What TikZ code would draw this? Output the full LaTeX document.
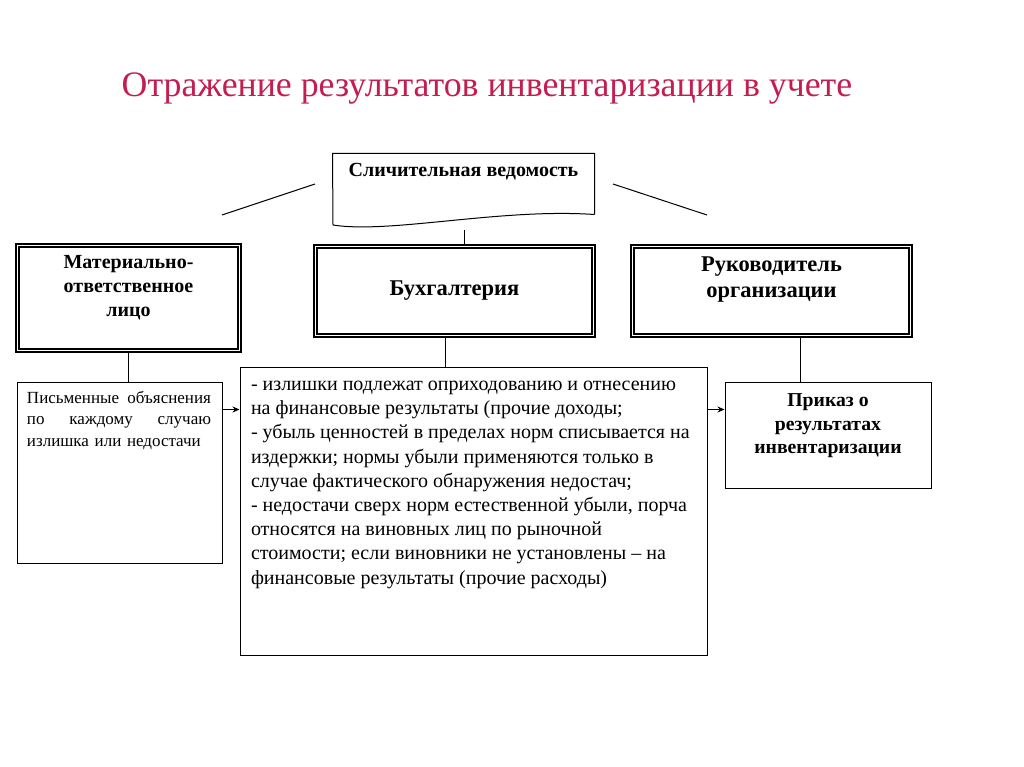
\documentclass[tikz,border=0pt]{standalone}
\usepackage{fontspec}
\setmainfont{Liberation Serif}
\usetikzlibrary{arrows.meta,calc}
\definecolor{titlered}{RGB}{196,30,80}

\tikzset{
  dblbox/.style={draw, double, double distance=1.8pt, line width=1.4pt, inner sep=0pt},
  plainbox/.style={draw, line width=1pt, inner sep=0pt},
  boldtext/.style={font=\bfseries\fontsize{20}{24}\selectfont, align=center},
  bodytext/.style={font=\fontsize{20}{24.2}\selectfont, align=left, inner sep=0pt},
  >={Stealth[length=7pt,width=6pt]}
}

\begin{document}
\begin{tikzpicture}[x=1pt,y=-1pt,line width=1pt]
  \useasboundingbox[fill=white] (0,0) rectangle (1024,767);
  \node[font=\fontsize{35.8}{40}\selectfont, text=titlered] (title) at (487,89) {Отражение результатов инвентаризации в учете};

  % document shape
  \node[minimum width=261, minimum height=60, inner sep=0pt] (doc) at (463.5,184) {};
  \draw (doc.south east) -- (doc.north east) -- (doc.north west) -- (333,225)
    .. controls (390,234) and (500,208) .. (doc.south east);
  \node[boldtext] (docname) at (463.5,172) {Сличительная ведомость};
  \coordinate (docfoot) at (464,230);
  \draw (222,215) -- (315,184);
  \draw (613,184) -- (707,215);

  % double boxes
  \node[dblbox, minimum width=222, minimum height=105] (mol) at (128.5,298) {};
  \node[boldtext] (moltext) at ($(mol)+(0,-10)$) {Материально-\\ответственное\\лицо};
  \node[dblbox, minimum width=278, minimum height=89] (buh) at (454.5,291) {};
  \node[boldtext, font=\bfseries\fontsize{22.5}{26}\selectfont] (buhtext) at (buh) {Бухгалтерия};
  \node[dblbox, minimum width=278, minimum height=89] (boss) at (771.5,291) {};
  \node[boldtext, font=\bfseries\fontsize{22.5}{26}\selectfont] (bosstext) at ($(boss)+(0,-11)$) {Руководитель\\организации};
  \draw (docfoot) -- (docfoot |- buh.north);

  % lower boxes
  \node[plainbox, minimum width=205, minimum height=181] (expl) at (119.5,472.5) {};
  \node[bodytext, font=\fontsize{17}{21.5}\selectfont, text width=186, anchor=north west] (expltext)
    at ($(expl.north west)+(10,9)$) {\makebox[184pt][l]{Письменные\hfill объяснения}\\\makebox[184pt][l]{по\hfill каждому\hfill случаю}\\излишка или недостачи};
  \node[plainbox, minimum width=467, minimum height=288] (res) at (473.5,511) {};
  \node[bodytext, anchor=north west] (restext) at ($(res.north west)+(11,14)$) {%
    - излишки подлежат оприходованию и отнесению\\
    на финансовые результаты (прочие доходы;\\
    - убыль ценностей в пределах норм списывается на\\
    издержки; нормы убыли применяются только в\\
    случае фактического обнаружения недостач;\\
    - недостачи сверх норм естественной убыли, порча\\
    относятся на виновных лиц по рыночной\\
    стоимости; если виновники не установлены -- на\\
    финансовые результаты (прочие расходы)};
  \node[plainbox, minimum width=206, minimum height=106] (order) at (828,435) {};
  \node[boldtext, font=\bfseries\fontsize{19.7}{23.5}\selectfont] (ordertext) at ($(order)+(0,-9)$) {Приказ о\\результатах\\инвентаризации};

  % connectors
  \draw (mol.south) -- (mol.south |- expl.north);
  \coordinate (buhfoot) at ($(buh.south)+(-9,0)$);
  \draw (buhfoot) -- (buhfoot |- res.north);
  \coordinate (bossfoot) at ($(boss.south)+(28.5,0)$);
  \draw (bossfoot) -- (bossfoot |- order.north);
  \coordinate (arrL) at ($(expl.north east)+(0,28)$);
  \draw[->] (arrL) -- (arrL -| res.west);
  \coordinate (arrR) at ($(res.north east)+(0,43)$);
  \draw[->] (arrR) -- (arrR -| order.west);
\end{tikzpicture}
\end{document}
